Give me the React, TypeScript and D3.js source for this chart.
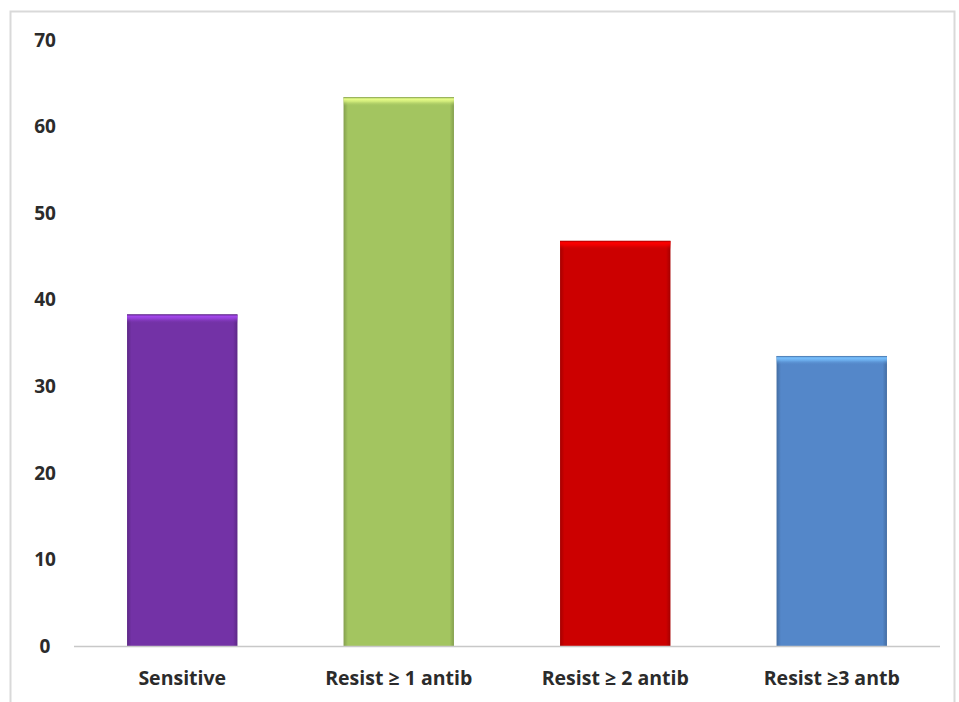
import React from "react";
import * as d3 from "d3";

const categories = ["Sensitive", "Resist \u2265 1 antib", "Resist \u2265 2 antib", "Resist \u22653 antb"];
const values = [38.3, 63.4, 46.8, 33.5];
const colors = ["#7332A6", "#A3C560", "#CC0000", "#5487C9"];
const yTicks = [0, 10, 20, 30, 40, 50, 60, 70];

const width = 959;
const height = 702;
const margin = { left: 74, right: 19, top: 40, bottom: 56 };

export default function App() {
  const x = d3
    .scaleBand<string>()
    .domain(categories)
    .range([margin.left, width - margin.right])
    .paddingInner(0.49)
    .paddingOuter(0.245);

  const y = d3
    .scaleLinear()
    .domain([0, 70])
    .range([height - margin.bottom, margin.top]);

  const font = "'Open Sans', 'Liberation Sans', sans-serif";

  return (
    <svg
      width={width}
      height={height}
      style={{ position: "absolute", left: 0, top: 0, background: "#fff" }}
    >
      <defs>
        {colors.map((c, i) => {
          const dark = d3.color(c)!.darker(0.6).formatHex();
          const light = d3.color(c)!.brighter(1).formatHex();
          return (
            <React.Fragment key={i}>
              <linearGradient id={`side${i}`} x1="0" x2="1" y1="0" y2="0">
                <stop offset="0" stopColor={dark} />
                <stop offset="0.04" stopColor={c} />
                <stop offset="0.96" stopColor={c} />
                <stop offset="1" stopColor={dark} />
              </linearGradient>
              <linearGradient id={`top${i}`} x1="0" x2="0" y1="0" y2="1">
                <stop offset="0" stopColor={dark} />
                <stop offset="0.2" stopColor={light} />
                <stop offset="0.5" stopColor={light} stopOpacity={0.6} />
                <stop offset="1" stopColor={c} stopOpacity={0} />
              </linearGradient>
            </React.Fragment>
          );
        })}
      </defs>

      {/* chart frame */}
      <rect x={10.5} y={11.5} width={944} height={700} fill="none" stroke="#d9d9d9" strokeWidth={2} />

      {/* y labels */}
      {yTicks.map((t) => (
        <text
          key={t}
          x={45}
          y={y(t)}
          dy="0.35em"
          textAnchor="middle"
          fontFamily={font}
          fontWeight="bold"
          fontSize={19}
          fill="#2b2b2b"
        >
          {t}
        </text>
      ))}

      {/* bars */}
      {categories.map((c, i) => {
        const bx = x(c)!;
        const by = y(values[i]);
        const bh = y(0) - by;
        return (
          <g key={c}>
            <rect x={bx} y={by} width={x.bandwidth()} height={bh} fill={`url(#side${i})`} />
            <rect x={bx} y={by} width={x.bandwidth()} height={9} fill={`url(#top${i})`} />
          </g>
        );
      })}

      {/* x axis line */}
      <line
        x1={margin.left}
        x2={width - margin.right}
        y1={y(0) + 0.5}
        y2={y(0) + 0.5}
        stroke="#c8c8c8"
        strokeWidth={1.5}
      />

      {/* x labels */}
      {categories.map((c) => (
        <text
          key={c}
          x={x(c)! + x.bandwidth() / 2}
          y={y(0) + 32}
          dy="0.35em"
          textAnchor="middle"
          fontFamily={font}
          fontWeight="bold"
          fontSize={19.5}
          fill="#2b2b2b"
        >
          {c}
        </text>
      ))}
    </svg>
  );
}
